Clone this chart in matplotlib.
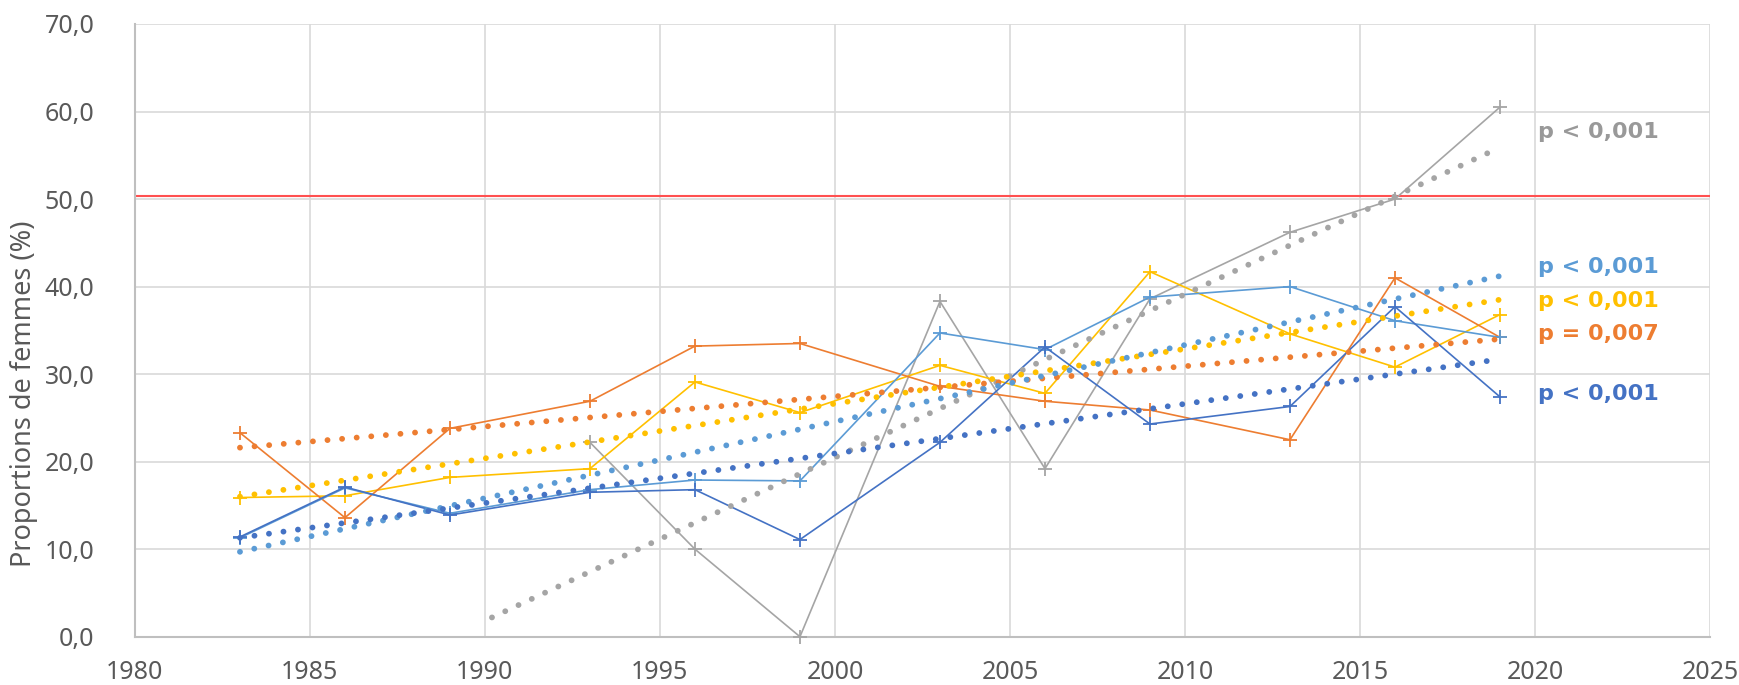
import numpy as np
import matplotlib
matplotlib.use("Agg")
import matplotlib.pyplot as plt

# survey years and proportions of women (%)
years = [1983, 1986, 1989, 1993, 1996, 1999, 2003, 2006, 2009, 2013, 2016, 2019]
dark_blue = [11.4, 17.1, 13.9, 16.5, 16.8, 11.1, 22.2, 33.1, 24.3, 26.3, 37.7, 27.4]
light_blue = [11.3, 17.0, 14.1, 16.8, 17.9, 17.8, 34.7, 32.8, 38.8, 40.0, 36.1, 34.2]
orange = [23.3, 13.6, 23.8, 26.9, 33.2, 33.5, 28.6, 26.9, 25.9, 22.5, 41.0, 34.2]
yellow = [15.9, 16.1, 18.2, 19.2, 29.1, 25.6, 31.0, 27.8, 41.7, 34.6, 30.8, 36.8]
gray = [np.nan, np.nan, np.nan, 22.2, 10.0, 0.0, 38.3, 19.2, 38.6, 46.2, 50.0, 60.5]

# linear trend lines (start / end)
trend_years = [1983, 2019]
trend_dark_blue = [11.3, 31.7]
trend_light_blue = [9.7, 41.2]
trend_orange = [21.6, 34.0]
trend_yellow = [16.0, 38.5]
trend_gray_years = [1990.2, 2019]
trend_gray = [2.2, 55.9]

threshold = 50.4

p_labels = ["p < 0,001", "p < 0,001", "p < 0,001", "p = 0,007", "p < 0,001"]
p_label_y = [57.7, 42.2, 38.3, 34.6, 27.7]

xticks = [1980, 1985, 1990, 1995, 2000, 2005, 2010, 2015, 2020, 2025]
yticks = [0, 10, 20, 30, 40, 50, 60, 70]
ytick_labels = ["0,0", "10,0", "20,0", "30,0", "40,0", "50,0", "60,0", "70,0"]

c_dblue = "#4472C4"
c_lblue = "#5B9BD5"
c_orange = "#ED7D31"
c_yellow = "#FFC000"
c_gray = "#A5A5A5"

fig = plt.figure(figsize=(17.39, 6.85), dpi=100)
ax = fig.add_axes([0.0776, 0.0705, 0.9057, 0.8945])

ax.axhline(threshold, color="#FF5050", lw=1.5, zorder=2)

# data lines
for vals, col in [(gray, c_gray), (yellow, c_yellow), (orange, c_orange),
                  (light_blue, c_lblue), (dark_blue, c_dblue)]:
    ax.plot(years, vals, color=col, lw=1.2, marker="+", markersize=10,
            markeredgewidth=1.3, clip_on=False, zorder=3)

# dotted trend lines
dot = dict(lw=4.2, linestyle=(0, (0.01, 2.5)), dash_capstyle="round", zorder=4)
ax.plot(trend_gray_years, trend_gray, color=c_gray, **dot)
ax.plot(trend_years, trend_orange, color=c_orange, **dot)
ax.plot(trend_years, trend_yellow, color=c_yellow, **dot)
ax.plot(trend_years, trend_light_blue, color=c_lblue, **dot)
ax.plot(trend_years, trend_dark_blue, color=c_dblue, **dot)

label_colors = ["#999999", c_lblue, c_yellow, c_orange, c_dblue]
for txt, y, col in zip(p_labels, p_label_y, label_colors):
    ax.text(2020.1, y, txt, color=col, fontsize=16, fontweight="bold",
            family="DejaVu Sans", va="center", ha="left")

ax.set_xlim(1980, 2025)
ax.set_ylim(0, 70)
ax.set_xticks(xticks)
ax.set_yticks(yticks)
ax.set_yticklabels(ytick_labels)
ax.tick_params(length=0, labelsize=18, labelcolor="#595959")
ax.tick_params(axis="y", pad=29)
ax.tick_params(axis="x", pad=17)
for lab in ax.get_xticklabels() + ax.get_yticklabels():
    lab.set_family("Noto Sans")

ax.grid(True, color="#D9D9D9", lw=1.2)
ax.set_axisbelow(True)
for s in ["top", "right"]:
    ax.spines[s].set_visible(False)
for s in ["left", "bottom"]:
    ax.spines[s].set_color("#BFBFBF")
    ax.spines[s].set_linewidth(1.5)

fig.text(0.0138, 0.4255, "Proportions de femmes (%)", rotation=90,
         ha="center", va="center", fontsize=19.5, color="#595959",
         family="Noto Sans")

fig.savefig("out.png", dpi=100)
